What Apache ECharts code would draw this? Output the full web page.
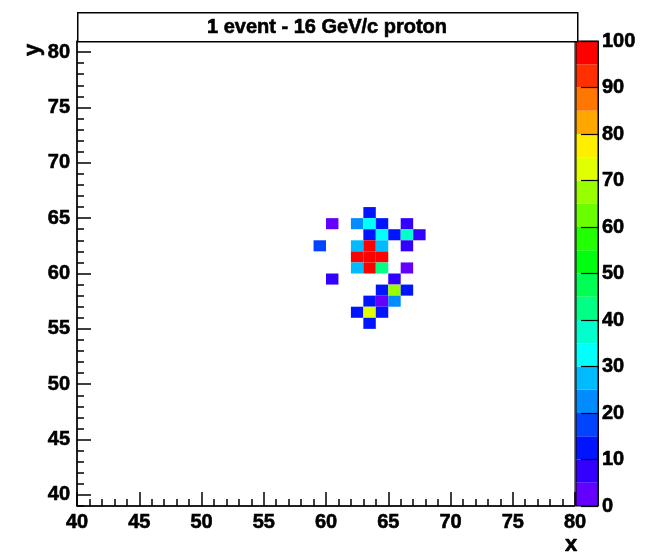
<!DOCTYPE html>
<html>
<head>
<meta charset="utf-8">
<script src="https://cdn.jsdelivr.net/npm/echarts@6/dist/echarts.min.js"></script>
<style>
  html, body { margin: 0; padding: 0; background: #ffffff; }
  #chart { width: 653px; height: 554px; }
</style>
</head>
<body>
<div id="chart"></div>
<script>
// ---- data ----
const titleText = '1 event - 16 GeV/c proton';
const xTitle = 'x';
const yTitle = 'y';
const xRange = [40, 80];
const yRange = [39, 81];
const yMajorTicks = [40, 45, 50, 55, 60, 65, 70, 75, 80];
const zMax = 100;
const zLevels = [0, 5, 10, 15, 20, 25, 30, 35, 40, 45, 50, 55, 60, 65, 70, 75, 80, 85, 90, 95];

// lower-left corner of every filled 1x1 bin, and its content
const cellX = [63, 60, 62, 63, 64, 66, 63, 64, 65, 66, 67, 59, 62, 63, 64, 66, 62, 63, 64, 62, 63, 64, 66, 60, 65, 64, 65, 66, 63, 64, 65, 62, 63, 64, 63];
const cellY = [65, 64, 64, 64, 64, 64, 63, 63, 63, 63, 63, 62, 62, 62, 62, 62, 61, 61, 61, 60, 60, 60, 60, 59, 59, 58, 58, 58, 57, 57, 57, 56, 56, 56, 55];
const cellZ = [12,  3, 22, 32, 12,  7, 12, 33, 12, 38,  7, 17, 27, 100, 27, 7, 100, 100, 100, 27, 100, 42, 3, 7, 7, 12, 67, 12, 12, 3, 22, 12, 73, 12, 12];

// ---- style ----
// 20 contour colours, violet -> red
const palette = [
  '#6300ff', '#3300ff', '#0014ff', '#0044ff', '#008bff',
  '#00bbff', '#00fffd', '#00ffcc', '#00ff85', '#00ff55',
  '#00ff0e', '#22ff00', '#69ff00', '#99ff00', '#e0ff00',
  '#ffee00', '#ffa700', '#ff7700', '#ff3000', '#ff0000'
];
function colorOf(z) {
  const idx = Math.max(0, Math.min(palette.length - 1, Math.floor(z / zMax * palette.length)));
  return palette[idx];
}

const FONT = '"Liberation Sans", Arial, Helvetica, sans-serif';
const labelStyle = {
  color: '#000', fontFamily: FONT, fontWeight: 'bold', fontSize: 20,
  textBorderColor: '#000', textBorderWidth: 0.6
};

const cells = cellX.map((x, i) => [x, cellY[i], cellZ[i]]);
const bands = zLevels.map(z => [0, z]);

const chart = echarts.init(document.getElementById('chart'), null, { renderer: 'canvas' });

chart.setOption({
  backgroundColor: '#ffffff',
  animation: false,
  grid: [
    { left: 77, top: 41, width: 498, height: 465, show: true, borderColor: '#000', borderWidth: 1, backgroundColor: 'transparent' },
    { left: 576, top: 41, width: 22, height: 465, show: true, borderColor: '#000', borderWidth: 1, backgroundColor: 'transparent', z: 5 }
  ],
  xAxis: [
    {
      gridIndex: 0, type: 'value', min: xRange[0], max: xRange[1], interval: 5,
      axisLine: { show: true, onZero: false, lineStyle: { color: '#000', width: 1.5 } },
      axisTick: { show: true, inside: true, length: 14, lineStyle: { color: '#000', width: 1.5 } },
      minorTick: { show: true, splitNumber: 5, length: 7, lineStyle: { color: '#000', width: 1.5 } },
      axisLabel: Object.assign({ margin: 6, showMinLabel: true, showMaxLabel: true }, labelStyle),
      splitLine: { show: false }
    },
    {
      gridIndex: 1, type: 'value', min: 0, max: 1, show: false
    }
  ],
  yAxis: [
    {
      // every unit: short ticks
      gridIndex: 0, type: 'value', position: 'left', min: yRange[0], max: yRange[1], interval: 1,
      axisLine: { show: true, onZero: false, lineStyle: { color: '#000', width: 1.5 } },
      axisTick: { show: true, inside: true, length: 7, lineStyle: { color: '#000', width: 1.5 } },
      axisLabel: { show: false },
      splitLine: { show: false }
    },
    {
      // every fifth unit: long ticks and labels
      gridIndex: 0, type: 'value', position: 'left', offset: 0, min: yRange[0], max: yRange[1], interval: 1,
      axisLine: { show: false },
      axisTick: { show: true, inside: true, length: 14, customValues: yMajorTicks, lineStyle: { color: '#000', width: 1.5 } },
      axisLabel: Object.assign({ margin: 7, customValues: yMajorTicks, padding: [4, 0, 0, 0] }, labelStyle),
      splitLine: { show: false }
    },
    {
      // colour scale
      gridIndex: 1, type: 'value', position: 'right', min: 0, max: zMax, interval: 10, z: 6,
      axisLine: { show: true, onZero: false, lineStyle: { color: '#000', width: 1 } },
      axisTick: { show: true, inside: true, length: 17, lineStyle: { color: '#000', width: 1.2 } },
      axisLabel: Object.assign({ margin: 4, padding: [8, 0, 0, 0] }, labelStyle),
      splitLine: { show: false }
    }
  ],
  series: [
    {
      type: 'custom',
      xAxisIndex: 0, yAxisIndex: 0,
      data: cells,
      clip: true,
      renderItem: function (params, api) {
        const x = api.value(0), y = api.value(1), z = api.value(2);
        const p0 = api.coord([x, y + 1]);
        const p1 = api.coord([x + 1, y]);
        return {
          type: 'rect',
          shape: { x: p0[0], y: p0[1], width: p1[0] - p0[0], height: p1[1] - p0[1] },
          style: { fill: colorOf(z), stroke: null }
        };
      },
      z: 1
    },
    {
      type: 'custom',
      xAxisIndex: 1, yAxisIndex: 2,
      data: bands,
      renderItem: function (params, api) {
        const lo = api.value(1);
        const step = zMax / zLevels.length;
        const p0 = api.coord([0, lo + step]);
        const p1 = api.coord([1, lo]);
        return {
          type: 'rect',
          shape: { x: p0[0], y: p0[1], width: p1[0] - p0[0], height: p1[1] - p0[1] },
          style: { fill: colorOf(lo + step / 2), stroke: null }
        };
      },
      z: 1
    }
  ],
  graphic: [
    {
      type: 'rect', left: 77, top: 12, z: 10,
      shape: { width: 500, height: 29 },
      style: { fill: '#ffffff', stroke: '#000', lineWidth: 1.5 }
    },
    {
      type: 'text', x: 327, y: 27, z: 11,
      style: { text: titleText, fill: '#000', font: 'bold 20px ' + FONT, textAlign: 'center', textVerticalAlign: 'middle', stroke: '#000', lineWidth: 0.6 }
    },
    {
      type: 'text', x: 33, y: 50, rotation: Math.PI / 2, z: 11,
      style: { text: yTitle, fill: '#000', font: 'bold 22px ' + FONT, textAlign: 'center', textVerticalAlign: 'middle', stroke: '#000', lineWidth: 0.6 }
    },
    {
      type: 'text', x: 571, y: 545, z: 11,
      style: { text: xTitle, fill: '#000', font: 'bold 22px ' + FONT, textAlign: 'center', textVerticalAlign: 'middle', stroke: '#000', lineWidth: 0.6 }
    }
  ]
});
</script>
</body>
</html>
